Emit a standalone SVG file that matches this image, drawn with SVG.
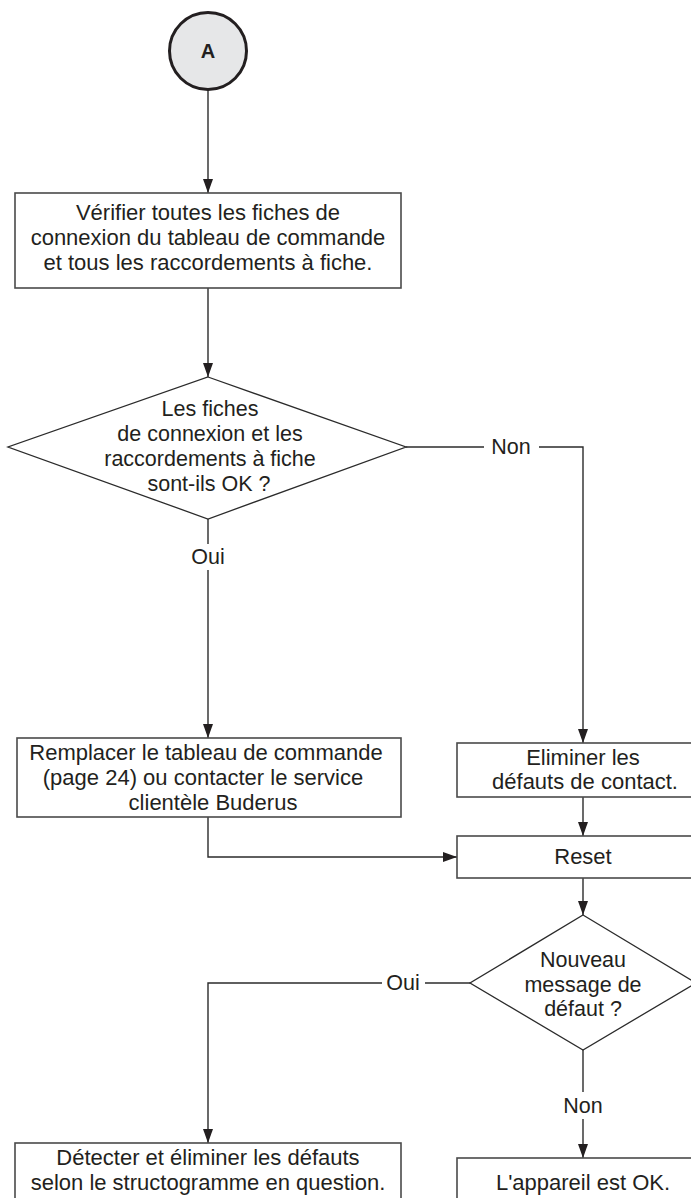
<svg xmlns="http://www.w3.org/2000/svg" width="691" height="1198" viewBox="0 0 691 1198">
  <style>
    .box { fill: #ffffff; stroke: #4a4a4a; stroke-width: 1.6; }
    .dia { fill: #ffffff; stroke: #2b2b2b; stroke-width: 1.3; }
    .wire { fill: none; stroke: #2b2b2b; stroke-width: 1.4; }
    .t { font-family: "Liberation Sans", Arial, sans-serif; font-size: 22px; fill: #231f20; text-anchor: middle; }
    .td { font-family: "Liberation Sans", Arial, sans-serif; font-size: 21.5px; fill: #231f20; text-anchor: middle; }
    .tb { font-family: "Liberation Sans", Arial, sans-serif; font-size: 20px; font-weight: bold; fill: #231f20; text-anchor: middle; }
  </style>
  <defs>
    <!-- filled arrowhead, tip at the line end -->
    <marker id="arrow" viewBox="0 0 14 10" refX="14" refY="5" markerWidth="14" markerHeight="10" markerUnits="userSpaceOnUse" orient="auto">
      <path d="M0,0 L14,5 L0,10 Z" fill="#231f20"/>
    </marker>
  </defs>

  <!-- connectors -->
  <g id="connectors">
    <line class="wire" x1="208" y1="90" x2="208" y2="193" marker-end="url(#arrow)"/>
    <line class="wire" x1="208" y1="288" x2="208" y2="377" marker-end="url(#arrow)"/>
    <!-- Non branch from first decision -->
    <polyline class="wire" points="406,447 484,447"/>
    <polyline class="wire" points="539,447 583,447 583,743" marker-end="url(#arrow)"/>
    <!-- Oui branch from first decision -->
    <line class="wire" x1="208" y1="519" x2="208" y2="544"/>
    <line class="wire" x1="208" y1="570" x2="208" y2="738" marker-end="url(#arrow)"/>
    <!-- into Reset -->
    <polyline class="wire" points="208,817 208,857 457,857" marker-end="url(#arrow)"/>
    <line class="wire" x1="583" y1="797" x2="583" y2="836" marker-end="url(#arrow)"/>
    <line class="wire" x1="583" y1="878" x2="583" y2="915" marker-end="url(#arrow)"/>
    <!-- Oui branch from second decision -->
    <line class="wire" x1="470" y1="983" x2="425" y2="983"/>
    <polyline class="wire" points="382,983 208,983 208,1143" marker-end="url(#arrow)"/>
    <!-- Non branch from second decision -->
    <line class="wire" x1="583" y1="1050" x2="583" y2="1092"/>
    <line class="wire" x1="583" y1="1119" x2="583" y2="1158" marker-end="url(#arrow)"/>
  </g>

  <!-- branch labels -->
  <g id="labels">
    <text class="td" x="511" y="454">Non</text>
    <text class="td" x="208" y="564">Oui</text>
    <text class="td" x="403" y="990">Oui</text>
    <text class="td" x="583" y="1113">Non</text>
  </g>

  <g id="start">
    <circle cx="208" cy="51" r="38.5" fill="#e6e7e8" stroke="#231f20" stroke-width="3"/>
    <text class="tb" x="208" y="58">A</text>
  </g>

  <g id="check-plugs">
    <rect class="box" x="15" y="193" width="386" height="95"/>
    <text class="t" x="208" y="220">Vérifier toutes les fiches de</text>
    <text class="t" x="208" y="245">connexion du tableau de commande</text>
    <text class="t" x="208" y="270">et tous les raccordements à fiche.</text>
  </g>

  <g id="plugs-ok">
    <polygon class="dia" points="208,377 406,447 208,519 8,447"/>
    <text class="td" x="210" y="416">Les fiches</text>
    <text class="td" x="210" y="441">de connexion et les</text>
    <text class="td" x="210" y="466">raccordements à fiche</text>
    <text class="td" x="209" y="491">sont-ils OK ?</text>
  </g>

  <g id="replace-panel">
    <rect class="box" x="17" y="738" width="384" height="79"/>
    <text class="t" x="206" y="760">Remplacer le tableau de commande</text>
    <text class="t" x="203" y="785">(page 24) ou contacter le service</text>
    <text class="t" x="213" y="810">clientèle Buderus</text>
  </g>

  <g id="fix-contacts">
    <rect class="box" x="457" y="743" width="252" height="54"/>
    <text class="t" x="583" y="765">Eliminer les</text>
    <text class="t" x="585" y="789">défauts de contact.</text>
  </g>

  <g id="reset">
    <rect class="box" x="457" y="836" width="252" height="42"/>
    <text class="t" x="583" y="864">Reset</text>
  </g>

  <g id="new-fault">
    <polygon class="dia" points="583,915 696,983 583,1050 470,983"/>
    <text class="td" x="583" y="967">Nouveau</text>
    <text class="td" x="583" y="992">message de</text>
    <text class="td" x="583" y="1016">défaut ?</text>
  </g>

  <g id="follow-chart">
    <rect class="box" x="15" y="1143" width="386" height="70"/>
    <text class="t" x="208" y="1165">Détecter et éliminer les défauts</text>
    <text class="t" x="208" y="1190">selon le structogramme en question.</text>
  </g>

  <g id="device-ok">
    <rect class="box" x="457" y="1158" width="252" height="60"/>
    <text class="t" x="583" y="1190">L'appareil est OK.</text>
  </g>
</svg>
